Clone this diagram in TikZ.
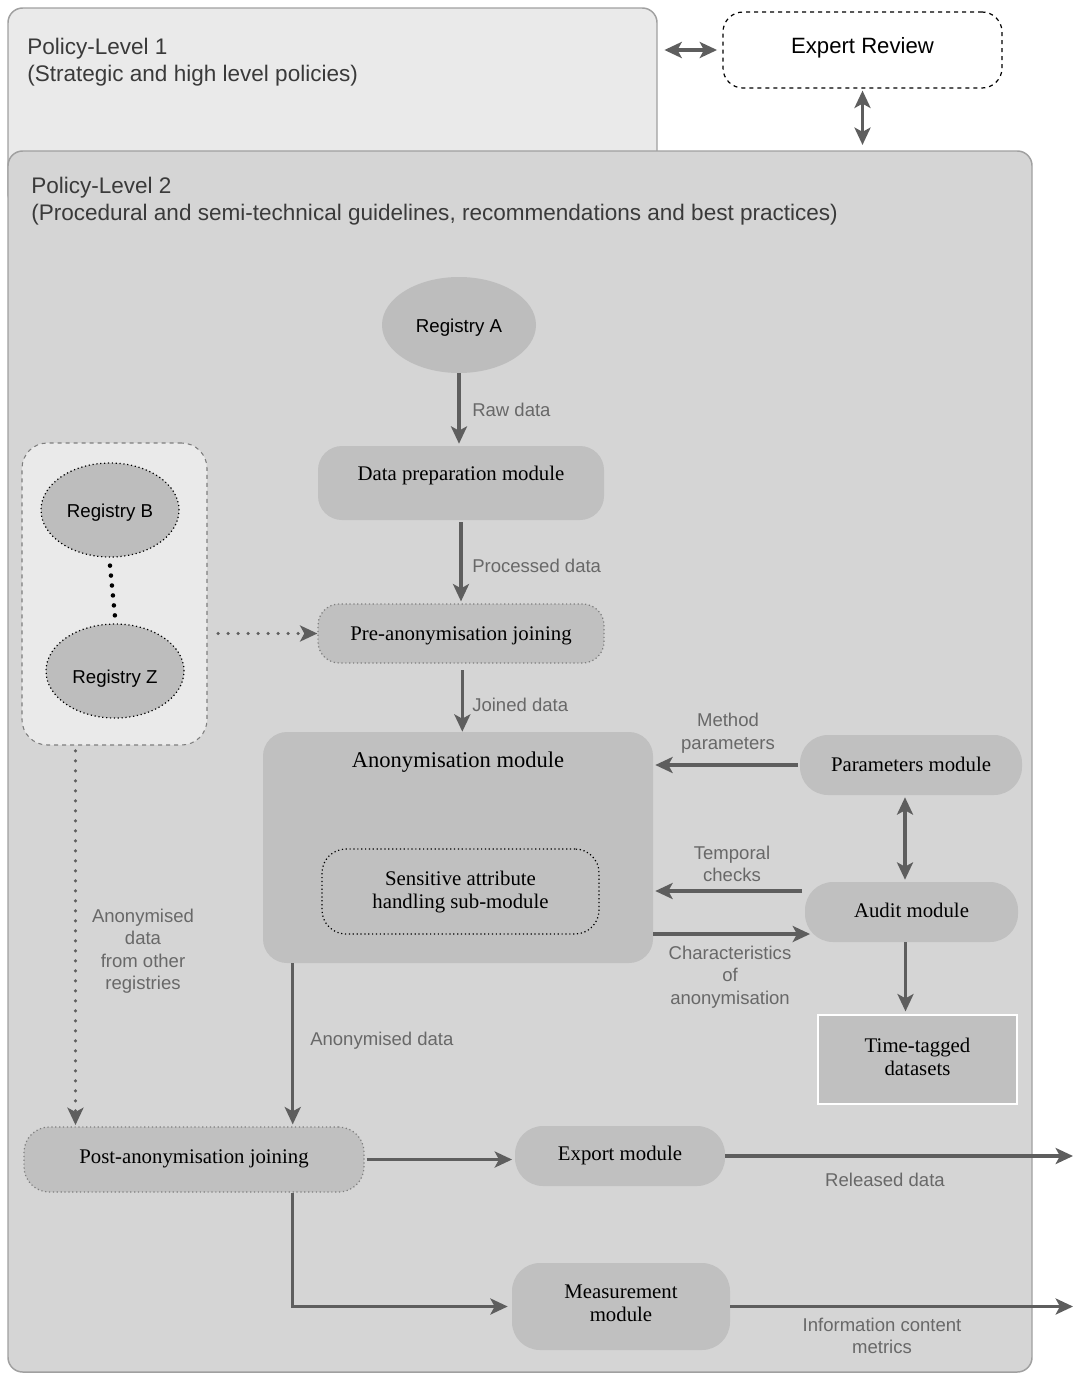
\documentclass[tikz,border=0pt]{standalone}
\usepackage{fontspec}
\setmainfont{Liberation Serif}
\setsansfont{Liberation Sans}
\usetikzlibrary{arrows.meta,shapes.geometric,calc}
\definecolor{lonefill}{HTML}{EAEAEA}
\definecolor{ltwofill}{HTML}{D5D5D5}
\definecolor{modfill}{HTML}{C0C0C0}
\definecolor{ellfill}{HTML}{BDBDBD}
\definecolor{arrowgray}{HTML}{5E5E5E}
\definecolor{labelgray}{HTML}{686868}
\definecolor{titlegray}{HTML}{3A3A3A}
\definecolor{bordergray}{HTML}{A0A0A0}
\begin{document}
\begin{tikzpicture}[x=0.75pt,y=-0.75pt,
  lbl/.style={font=\sffamily\fontsize{13.9}{16.8}\selectfont, text=labelgray, align=center, inner sep=0pt},
  ttl/.style={font=\sffamily\fontsize{16.9}{20.3}\selectfont, text=titlegray, align=left, anchor=west, inner sep=0pt},
  modtxt/.style={font=\fontsize{15.6}{17.3}\selectfont, align=center},
  mtext/.style={modtxt, yshift=-1.8pt},
  mod/.style={fill=modfill, rounded corners=18pt, inner sep=0pt, modtxt},
  level/.style={draw=bordergray, line width=1.1pt, rounded corners=11pt, inner sep=0pt},
  ell/.style={ellipse, fill=ellfill, inner sep=0pt},
  elltxt/.style={font=\sffamily\fontsize{14}{17}\selectfont, inner sep=0pt},
  tip/.tip={Stealth[length=13pt,width=12pt,inset=3.2pt]},
  arr/.style={draw=arrowgray, line width=2.6pt, -tip},
  darr/.style={draw=arrowgray, line width=2.6pt, tip-tip},
  dotarr/.style={draw=arrowgray, line width=2.6pt, line cap=round, dash pattern=on 0pt off 7.5pt, -tip}
]
\useasboundingbox (0,0) rectangle (1080,1374);
\fill[white] (0,0) rectangle (1080,1374);

% levels
\node[level, fill=lonefill, minimum width=486.75pt, minimum height=150pt] (lone) at (332.5,108) {};
\node[level, fill=ltwofill, minimum width=768pt, minimum height=915.75pt] (ltwo) at (520,761.5) {};
\node[ttl] (lonet) at (27,62) {Policy-Level 1\\(Strategic and high level policies)};
\node[ttl] (ltwot) at (31,201) {Policy-Level 2\\(Procedural and semi-technical guidelines, recommendations and best practices)};

% expert review
\node[draw=black, dashed, line width=0.9pt, fill=white, rounded corners=15pt, minimum width=209.25pt, minimum height=57pt] (expert) at (862.5,50) {};
\node[font=\sffamily\fontsize{16.6}{18}\selectfont] (expertt) at (862.5,48) {Expert Review};

% registry group
\node[draw=arrowgray!80, dashed, line width=0.8pt, fill=lonefill, rounded corners=19pt, minimum width=138.75pt, minimum height=226.5pt] (group) at (114.5,594) {};
\node[ell, draw=black, dotted, line width=0.9pt, minimum width=103.5pt, minimum height=70.5pt] (regB) at (110,510) {};
\node[elltxt] (regBt) at (110,513) {Registry B};
\node[ell, draw=black, dotted, line width=0.9pt, minimum width=103.5pt, minimum height=70.5pt] (regZ) at (115,671) {};
\node[elltxt] (regZt) at (115,679) {Registry Z};

% main chain
\node[ell, minimum width=115.5pt, minimum height=72pt] (regA) at (459,325) {};
\node[elltxt] (regAt) at (459,328) {Registry A};
\node[mod, minimum width=214.5pt, minimum height=55.5pt] (prep) at (461,483) {};
\node[mtext] (prept) at (461,473) {Data preparation module};
\node[mod, draw=arrowgray!80, dotted, line width=0.9pt, rounded corners=16pt, minimum width=214.5pt, minimum height=44.25pt] (pre) at (461,633.5) {};
\node[mtext] (pret) at (461,633) {Pre-anonymisation joining};
\node[mod, minimum width=292.5pt, minimum height=173.25pt] (anon) at (458,847.5) {};
\node[mtext, font=\fontsize{16.9}{19}\selectfont] (anont) at (458,760) {Anonymisation module};
\node[mod, draw=black, dotted, line width=0.9pt, minimum width=207.75pt, minimum height=63.75pt] (sens) at (460.5,891.5) {};
\node[mtext] (senst) at (460.5,890) {Sensitive attribute\\handling sub-module};

% right side
\node[mod, rounded corners=21pt, minimum width=166.5pt, minimum height=45pt] (params) at (911,765) {};
\node[mtext] (paramst) at (911,762) {Parameters module};
\node[mod, rounded corners=21pt, minimum width=159.75pt, minimum height=45pt] (audit) at (911.5,912) {};
\node[mtext] (auditt) at (911.5,908) {Audit module};
\node[mod, rounded corners=0pt, draw=white, line width=1.4pt, minimum width=149.25pt, minimum height=66.75pt] (tt) at (917.5,1059.5) {};
\node[mtext] (ttt) at (917.5,1054.5) {Time-tagged\\datasets};

% bottom
\node[mod, draw=arrowgray!80, dotted, line width=0.9pt, rounded corners=19pt, minimum width=255pt, minimum height=48.75pt] (post) at (194,1159.5) {};
\node[mtext] (postt) at (194,1156) {Post-anonymisation joining};
\node[mod, rounded corners=21pt, minimum width=157.5pt, minimum height=45pt] (export) at (620,1156) {};
\node[mtext] (exportt) at (620,1153) {Export module};
\node[mod, rounded corners=21pt, minimum width=163.5pt, minimum height=65.25pt] (meas) at (621,1306.5) {};
\node[mtext] (meast) at (621,1301) {Measurement\\module};
\coordinate (outa) at (1073,1157);
\coordinate (outb) at (1073,1306);

% connectors
\draw[darr, shorten <=5pt, shorten >=4pt] (lone.east |- expert.west) -- (expert.west);
\draw[darr, shorten <=1.5pt, shorten >=4pt] (expert.south) -- (expert.south |- ltwo.north);
\draw[arr, shorten >=1.5pt] (regA.south) -- (regA.south |- prep.north);
\node[lbl, anchor=west] (lraw) at (472,409.5) {Raw data};
\draw[arr, shorten <=1.5pt, shorten >=1.5pt] (prep.south) -- (pre.north);
\node[lbl, anchor=west] (lproc) at (472,565.5) {Processed data};
\coordinate (pj) at ([xshift=1pt]pre.south);
\draw[arr, shorten <=5pt] (pj) -- (pj |- anon.north);
\node[lbl, anchor=west] (ljoin) at (472,704.5) {Joined data};
\draw[dotarr, shorten <=8pt] (group.east |- pre.west) -- (pre.west);
\draw[line width=3.4pt, line cap=round, dash pattern=on 0pt off 7.5pt, draw=black] ([yshift=-6pt]regB.south) -- ([yshift=5pt]regZ.north);

\draw[arr, shorten <=1.5pt, shorten >=1.5pt] (params.west) -- (params.west -| anon.east);
\node[lbl] (lmeth) at (728,733) {Method\\parameters};
\coordinate (pa) at ([xshift=-4.5pt]params.south);
\draw[darr, shorten <=1.5pt, shorten >=1.5pt] (pa) -- (pa |- audit.north);
\coordinate (tc) at ([yshift=15.75pt]audit.west);
\draw[arr, shorten <=2pt, shorten >=1.5pt] (tc) -- (tc -| anon.east);
\node[lbl] (ltemp) at (732,864) {Temporal\\checks};
\coordinate (ch) at ([yshift=-16.5pt]audit.west);
\draw[arr, shorten >=-4pt] (ch -| anon.east) -- (ch);
\node[lbl] (lchar) at (730,977) {Characteristics\\of\\anonymisation};
\coordinate (at) at ([xshift=-4.5pt]audit.south);
\draw[arr, shorten >=2pt] (at) -- (at |- tt.north);

\coordinate (as) at ([xshift=22.5pt]anon.south west);
\draw[arr, shorten >=1.5pt] (as) -- (as |- post.north);
\node[lbl, anchor=west] (lanon) at (310,1041) {Anonymised data};
\coordinate (gs) at ([xshift=40.5pt]group.south west);
\draw[dotarr, shorten <=4pt, shorten >=1pt] (gs) -- (gs |- post.north);
\node[lbl] (lother) at (143,951) {Anonymised\\data\\from other\\registries};

\draw[arr, shorten <=1.5pt, shorten >=2pt] (post.east) -- (post.east -| export.west);
\draw[arr] (export.east) -- (export.east -| outa);
\node[lbl] (lrel) at (885,1180) {Released data};
\coordinate (ps) at ([xshift=201.75pt]post.south west);
\draw[arr, shorten >=3pt] (ps) -- (ps |- meas.west) -- (meas.west);
\draw[arr] (meas.east) -- (meas.east -| outb);
\node[lbl] (linfo) at (882,1336) {Information content\\metrics};
\end{tikzpicture}
\end{document}
